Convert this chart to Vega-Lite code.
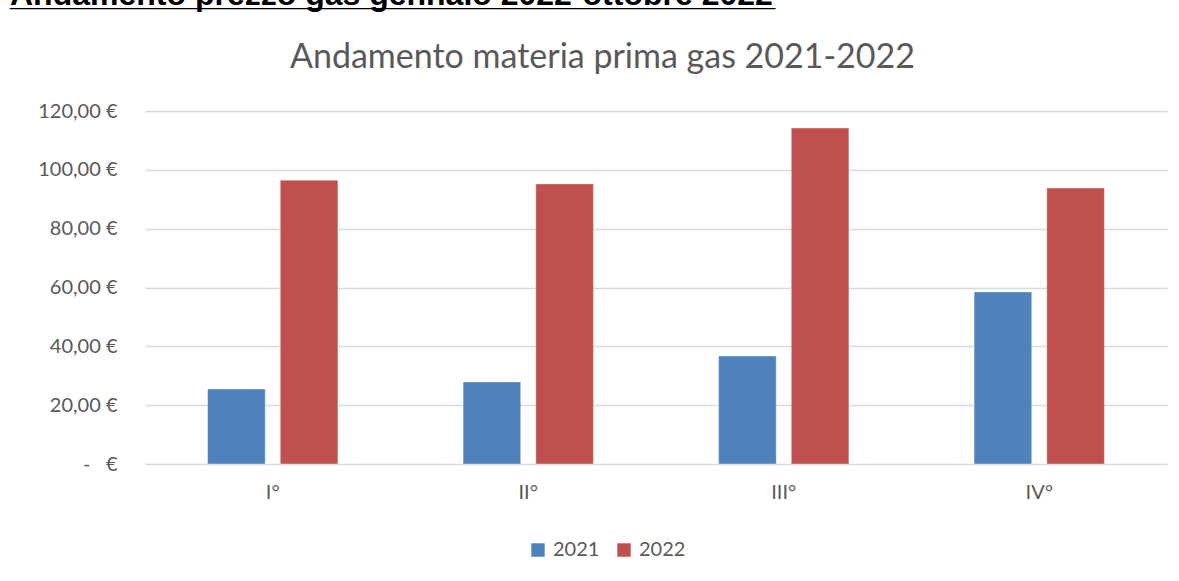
{
  "$schema": "https://vega.github.io/schema/vega-lite/v6.json",
  "width": 1022,
  "height": 353,
  "autosize": {"type": "none"},
  "padding": {"left": 145, "top": 111, "right": 12, "bottom": 117},
  "background": "white",
  "title": {
    "text": "Andamento prezzo gas gennaio 2022-ottobre 2022",
    "subtitle": "___________________________________________",
    "anchor": "start",
    "frame": "group",
    "dx": -135,
    "font": "Liberation Sans",
    "fontSize": 32,
    "fontWeight": "bold",
    "color": "#000000",
    "subtitleFont": "Liberation Sans",
    "subtitleFontSize": 32,
    "subtitleFontWeight": "bold",
    "subtitleColor": "#000000",
    "subtitlePadding": -32,
    "offset": 28
  },
  "data": {
    "values": [
      {"trimestre": "I°", "anno": "2021", "valore": 25.5},
      {"trimestre": "I°", "anno": "2022", "valore": 96.5},
      {"trimestre": "II°", "anno": "2021", "valore": 27.9},
      {"trimestre": "II°", "anno": "2022", "valore": 95.2},
      {"trimestre": "III°", "anno": "2021", "valore": 36.7},
      {"trimestre": "III°", "anno": "2022", "valore": 114.2},
      {"trimestre": "IV°", "anno": "2021", "valore": 58.5},
      {"trimestre": "IV°", "anno": "2022", "valore": 93.8}
    ]
  },
  "config": {
    "view": {"stroke": null},
    "font": "Lato"
  },
  "layer": [
    {
      "mark": {"type": "bar", "stroke": "white", "strokeWidth": 1, "strokeOpacity": 0.4},
      "encoding": {
        "x": {
          "field": "trimestre", "type": "nominal", "sort": ["I°", "II°", "III°", "IV°"],
          "scale": {"paddingInner": 0.49, "paddingOuter": 0.245},
          "axis": {"orient": "bottom", "title": null, "labelAngle": 0, "domain": false, "ticks": false,
                   "labelFont": "Lato", "labelFontSize": 20, "labelColor": "#595959", "labelPadding": 18}
        },
        "xOffset": {"field": "anno", "type": "nominal", "scale": {"paddingInner": 0.207, "paddingOuter": 0}},
        "y": {
          "field": "valore", "type": "quantitative",
          "scale": {"domain": [0, 120], "nice": false},
          "axis": {"title": null, "values": [0, 20, 40, 60, 80, 100, 120], "domain": false, "ticks": false,
                   "grid": true, "gridColor": "#d9d9d9", "gridWidth": 1.5,
                   "labelFont": "Lato", "labelFontSize": 20, "labelColor": "#595959", "labelPadding": 28,
                   "labelExpr": "datum.value == 0 ? '-\u00a0\u00a0\u00a0€' : replace(format(datum.value, '.2f'), '.', ',') + ' €'"}
        },
        "color": {
          "field": "anno", "type": "nominal",
          "scale": {"range": ["#4f81bd", "#c0504d"]},
          "legend": {"orient": "none", "legendX": 383, "legendY": 429, "direction": "horizontal", "title": null, "symbolType": "square",
                     "symbolSize": 180, "symbolStrokeWidth": 0, "labelFont": "Lato", "labelFontSize": 20,
                     "labelColor": "#595959", "columnPadding": 14, "labelOffset": 5}
        }
      }
    },
    {
      "mark": {"type": "bar", "opacity": 0},
      "encoding": {
        "x": {
          "field": "trimestre", "type": "nominal", "sort": ["I°", "II°", "III°", "IV°"],
          "axis": {"orient": "top", "title": "Andamento materia prima gas 2021-2022", "labels": false,
                   "ticks": false, "domain": false, "grid": false, "titleFont": "Lato", "titleFontSize": 34,
                   "titleFontWeight": "normal", "titleColor": "#595959", "titlePadding": 37, "titleX": 457}
        },
        "xOffset": {"field": "anno", "type": "nominal"},
        "y": {"field": "valore", "type": "quantitative"}
      }
    }
  ],
  "resolve": {"axis": {"x": "independent"}}
}
